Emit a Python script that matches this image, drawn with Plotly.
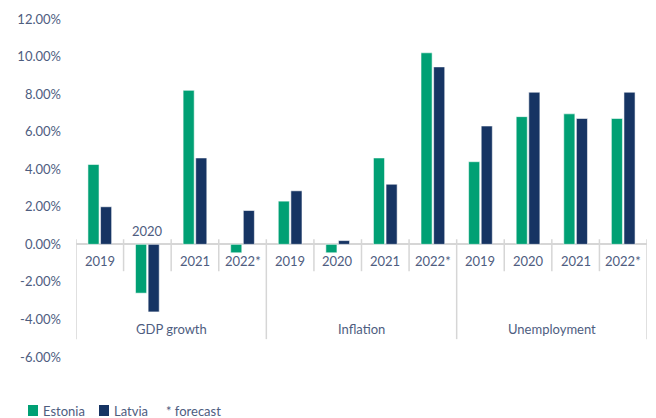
import plotly.graph_objects as go

groups = ["GDP growth", "Inflation", "Unemployment"]
years = ["2019", "2020", "2021", "2022*"]
categories = [g + " " + y for g in groups for y in years]

estonia = [4.25, -2.6, 8.2, -0.45, 2.3, -0.45, 4.6, 10.2, 4.4, 6.8, 6.95, 6.7]
latvia = [2.0, -3.6, 4.6, 1.8, 2.85, 0.2, 3.2, 9.45, 6.3, 8.1, 6.7, 8.1]

y_ticks = [12, 10, 8, 6, 4, 2, 0, -2, -4, -6]
y_tick_labels = ["%.2f%%" % v for v in y_ticks]

green = "#00a074"
navy = "#163463"
text_col = "#4e5d7f"
sep_col = "#d6d6d6"
font_family = "Lato, Inter, sans-serif"

# the page body adds an 8px margin, so the figure is drawn 8px smaller
# and every page pixel below is converted with that offset
OFF = 8
FW, FH = 656 - OFF, 418 - OFF
L, R, T, B = 76 - OFF, 647 - OFF, 19 - OFF, 357 - OFF
W, H = R - L, B - T


def px_x(p):
    return (p - OFF - L) / W


def px_y(p):
    return (B - (p - OFF)) / H


fig = go.Figure()
fig.add_trace(go.Bar(x=categories, y=estonia, name="Estonia",
                     marker=dict(color=green, line=dict(color="rgba(255,255,255,0.55)", width=1))))
fig.add_trace(go.Bar(x=categories, y=latvia, name="Latvia",
                     marker=dict(color=navy, line=dict(color="rgba(255,255,255,0.55)", width=1))))

# category labels sitting on the zero line
for i, c in enumerate(categories):
    yr = c.split(" ")[-1]
    shift = -17
    if c == "GDP growth 2020":
        shift = 13
    fig.add_annotation(x=i, y=0, text=yr, showarrow=False, yshift=shift,
                       font=dict(size=13, color=text_col, family=font_family))

# group labels
for k, g in enumerate(groups):
    fig.add_annotation(x=4 * k + 1.5, y=-4.5, text=g, showarrow=False,
                       font=dict(size=13, color=text_col, family=font_family))

# separators
for i in range(13):
    bottom = -5.05 if i % 4 == 0 else -1.43
    fig.add_shape(type="line", xref="x", yref="y", x0=i - 0.5, x1=i - 0.5,
                  y0=0.27, y1=bottom, line=dict(color=sep_col, width=1.5))

# legend drawn by hand (swatch + label)
legend_items = [("Estonia", green, 28), ("Latvia", navy, 99)]
for name, col, x0 in legend_items:
    fig.add_shape(type="rect", xref="paper", yref="paper",
                  x0=px_x(x0), x1=px_x(x0 + 10), y0=px_y(416), y1=px_y(405),
                  fillcolor=col, line=dict(width=0))
    fig.add_annotation(xref="paper", yref="paper", x=px_x(x0 + 13), y=px_y(411),
                       xanchor="left", yanchor="middle", text=name, showarrow=False,
                       font=dict(size=13, color=text_col, family=font_family))
fig.add_annotation(xref="paper", yref="paper", x=px_x(164), y=px_y(411),
                   xanchor="left", yanchor="middle", text="* forecast", showarrow=False,
                   font=dict(size=13, color=text_col, family=font_family))

fig.update_layout(
    width=FW, height=FH,
    margin=dict(l=L, r=FW - R, t=T, b=FH - B, autoexpand=False),
    plot_bgcolor="white", paper_bgcolor="white",
    barmode="group", bargap=0.47, bargroupgap=0.12,
    font=dict(family=font_family, size=13, color=text_col),
    showlegend=False,
    xaxis=dict(showticklabels=False, showgrid=False, zeroline=False,
               range=[-0.5, 11.5], fixedrange=True, automargin=False),
    yaxis=dict(range=[-6, 12], tickvals=y_ticks, ticktext=y_tick_labels,
               showgrid=False, zeroline=True, zerolinecolor=sep_col, zerolinewidth=1.5,
               ticks="", ticklabelstandoff=14, automargin=False),
)

fig.write_html("out.html")
